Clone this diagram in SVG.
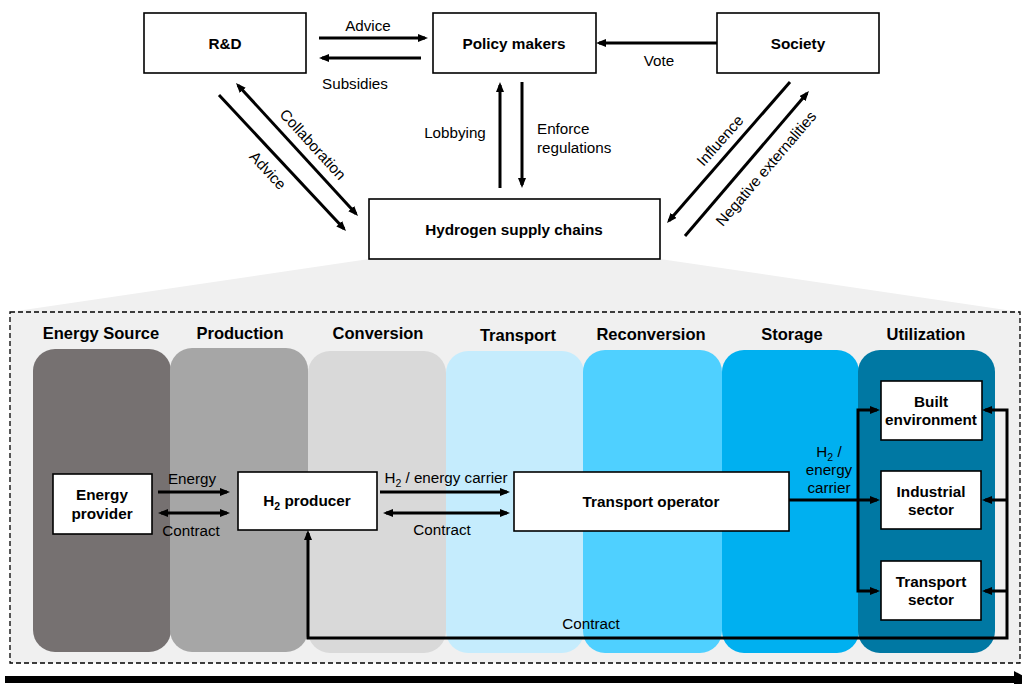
<svg xmlns="http://www.w3.org/2000/svg" width="1022" height="684" viewBox="0 0 1022 684">
<defs>
<style>
.box{fill:#fff;stroke:#000;stroke-width:1.6}
.b{font-family:"Liberation Sans",Arial,sans-serif;font-weight:bold;font-size:15.3px;fill:#000;text-anchor:middle}
.h{font-family:"Liberation Sans",Arial,sans-serif;font-weight:bold;font-size:16.5px;fill:#000;text-anchor:middle}
.l{font-family:"Liberation Sans",Arial,sans-serif;font-size:15.2px;fill:#000;text-anchor:middle}
.s{text-anchor:start}
.a{fill:none;stroke:#000;stroke-width:3}
.ae{marker-end:url(#ah)}
.as{marker-start:url(#ah)}
</style>
<marker id="ah" viewBox="0 0 10 8" markerWidth="10" markerHeight="8" refX="7" refY="4" orient="auto-start-reverse" markerUnits="userSpaceOnUse">
<path d="M0,0 L10,4 L0,8 z" fill="#000"/>
</marker>
</defs>
<rect width="1022" height="684" fill="#fff"/>

<!-- zoom trapezoid and frame -->
<polygon points="369,259 660,259 1020,312 10,312" fill="#f0f0f0"/>
<rect x="10" y="312" width="1010" height="351" fill="#f0f0f0" stroke="#000" stroke-width="1.3" stroke-dasharray="5,3"/>

<!-- stage columns -->
<g id="columns">
<rect x="33" y="349" width="138" height="303" rx="22" fill="#767171"/>
<rect x="170" y="348" width="138" height="304" rx="22" fill="#a6a6a6"/>
<rect x="308" y="351" width="138" height="302" rx="22" fill="#d9d9d9"/>
<rect x="446" y="351" width="138" height="302" rx="22" fill="#c5ecfd"/>
<rect x="583" y="350" width="139" height="303" rx="22" fill="#4fd0ff"/>
<rect x="722" y="350" width="137" height="303" rx="22" fill="#00b0f0"/>
<rect x="858" y="350" width="137" height="303" rx="22" fill="#0078a3"/>
</g>
<g id="headers">
<text class="h" x="101" y="339">Energy Source</text>
<text class="h" x="240" y="339">Production</text>
<text class="h" x="378" y="339">Conversion</text>
<text class="h" x="518" y="341">Transport</text>
<text class="h" x="651" y="340">Reconversion</text>
<text class="h" x="792" y="340">Storage</text>
<text class="h" x="926" y="340">Utilization</text>
</g>

<!-- top nodes -->
<g id="rd"><rect class="box" x="144" y="13" width="162" height="60"/><text class="b" x="225" y="49">R&amp;D</text></g>
<g id="policy"><rect class="box" x="433" y="13" width="163" height="60"/><text class="b" x="514" y="49">Policy makers</text></g>
<g id="society"><rect class="box" x="717" y="13" width="162" height="60"/><text class="b" x="798" y="49">Society</text></g>
<g id="hsc"><rect class="box" x="369" y="199" width="291" height="60"/><text class="b" x="514" y="235">Hydrogen supply chains</text></g>

<!-- bottom nodes -->
<g id="energy-provider"><rect class="box" x="53" y="474" width="99" height="60"/><text class="b" x="102" y="500">Energy</text><text class="b" x="102" y="519">provider</text></g>
<g id="h2-producer"><rect class="box" x="238" y="472" width="139" height="58"/><text class="b" x="307" y="506">H<tspan font-size="10.5" dy="4">2</tspan><tspan dy="-4"> producer</tspan></text></g>
<g id="transport-operator"><rect class="box" x="514" y="472" width="275" height="59"/><text class="b" x="651" y="507">Transport operator</text></g>
<g id="built-environment"><rect class="box" x="881" y="381" width="101" height="59"/><text class="b" x="931" y="407">Built</text><text class="b" x="931" y="425">environment</text></g>
<g id="industrial-sector"><rect class="box" x="881" y="471" width="100" height="58"/><text class="b" x="931" y="497">Industrial</text><text class="b" x="931" y="515">sector</text></g>
<g id="transport-sector"><rect class="box" x="881" y="561" width="100" height="59"/><text class="b" x="931" y="587">Transport</text><text class="b" x="931" y="605">sector</text></g>

<!-- connectors -->
<g id="connectors">
<line class="a ae" x1="319" y1="38" x2="425" y2="38"/>
<line class="a ae" x1="421" y1="58" x2="322" y2="58"/>
<line class="a ae" x1="717" y1="43" x2="599" y2="43"/>
<line class="a ae" x1="500" y1="188" x2="500" y2="85"/>
<line class="a ae" x1="522" y1="82" x2="522" y2="185"/>
<line class="a ae as" x1="238" y1="85.2" x2="356" y2="213.8"/>
<line class="a ae" x1="219" y1="95" x2="344" y2="228.8"/>
<line class="a ae" x1="790" y1="82" x2="669" y2="220.7"/>
<line class="a ae" x1="685" y1="236" x2="807" y2="93.3"/>

<line class="a ae" x1="158" y1="492" x2="227" y2="492"/>
<line class="a ae as" x1="161" y1="513" x2="227" y2="513"/>
<line class="a ae" x1="380" y1="492" x2="507" y2="492"/>
<line class="a ae as" x1="386" y1="513" x2="507" y2="513"/>
<line class="a ae" x1="789" y1="500" x2="877" y2="500"/>
<path class="a ae as" d="M877,410 H858 V591 H877"/>
<path class="a ae as" d="M985,410 H1007 V638 H308 V533"/>
<line class="a ae" x1="1007" y1="500" x2="985" y2="500"/>
<line class="a ae" x1="1007" y1="591" x2="985" y2="591"/>
</g>

<!-- labels -->
<g id="labels">
<text class="l" x="368" y="31">Advice</text>
<text class="l" x="355" y="89">Subsidies</text>
<text class="l" x="659" y="66">Vote</text>
<text class="l" x="455" y="138">Lobbying</text>
<text class="l s" x="537" y="134">Enforce</text>
<text class="l s" x="537" y="153">regulations</text>
<text class="l" transform="translate(309,148) rotate(47.5)">Collaboration</text>
<text class="l" transform="translate(264,174) rotate(47.5)">Advice</text>
<text class="l" transform="translate(724,144) rotate(-48.5)">Influence</text>
<text class="l" transform="translate(770,172) rotate(-49.5)">Negative externalities</text>

<text class="l" x="192" y="484">Energy</text>
<text class="l" x="191" y="536">Contract</text>
<text class="l" x="446" y="483">H<tspan font-size="10.5" dy="4">2</tspan><tspan dy="-4"> / energy carrier</tspan></text>
<text class="l" x="442" y="535">Contract</text>
<text class="l" x="829" y="457">H<tspan font-size="10.5" dy="4">2</tspan><tspan dy="-4"> /</tspan></text>
<text class="l" x="829" y="475">energy</text>
<text class="l" x="829" y="493">carrier</text>
<text class="l" x="591" y="629">Contract</text>
</g>

<!-- flow arrow -->
<polygon points="5,676 1014,676 1014,671 1030,679.5 1014,688 1014,683 5,683" fill="#000"/>
</svg>
